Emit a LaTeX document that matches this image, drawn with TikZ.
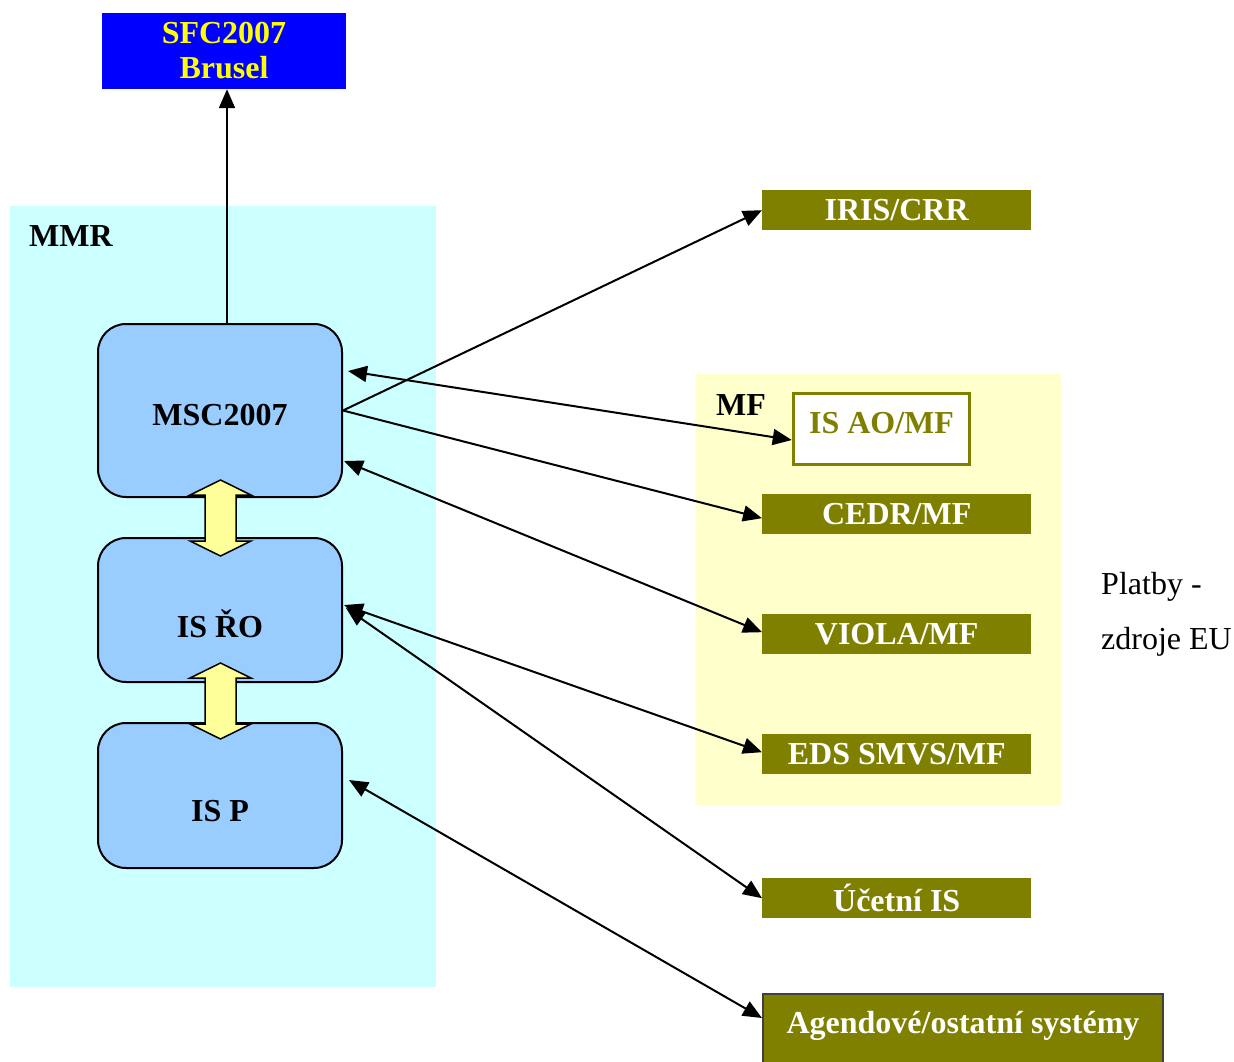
\documentclass[tikz,border=0pt]{standalone}
\usepackage{fontspec}
\setmainfont{Liberation Serif}
\usetikzlibrary{arrows.meta}
\definecolor{olivebox}{RGB}{128,128,0}
\definecolor{mmrbg}{RGB}{204,255,255}
\definecolor{mfbg}{RGB}{255,255,204}
\definecolor{boxblue}{RGB}{153,204,255}
\definecolor{yarrow}{RGB}{255,255,153}
\definecolor{sfcblue}{RGB}{0,0,255}
\definecolor{sfcyellow}{RGB}{255,255,0}
\begin{document}
\begin{tikzpicture}[x=1pt,y=-1pt,
  bigfont/.style={font=\fontsize{32}{36}\selectfont\bfseries},
  plainfont/.style={font=\fontsize{32}{36}\selectfont},
  rbox/.style={draw=black, line width=2pt, fill=boxblue, rounded corners=28pt,
    minimum width=244pt, minimum height=#1, inner sep=0pt},
  olv/.style={fill=olivebox, text=white, bigfont, minimum width=269pt,
    minimum height=40pt, inner sep=0pt, anchor=north west},
  dblarr/.style={draw=black, line width=1.5pt, fill=yarrow, line join=miter},
  tip/.tip={Triangle[length=19pt,width=16pt]},
  arr/.style={draw=black, line width=2pt, -tip},
  arrb/.style={draw=black, line width=2pt, tip-tip},
]
\useasboundingbox (0,0) rectangle (1234,1062);
\clip (0,0) rectangle (1234,1062);

% backgrounds
\fill[mmrbg] (10,206) rectangle (436,987);
\fill[mfbg] (696,374) rectangle (1061,805);
\node[bigfont, anchor=west, inner sep=0pt] (mmrlbl) at (29,236) {MMR};
\node[bigfont, anchor=west, inner sep=0pt] (mflbl) at (716,405) {MF};

% SFC box
\node[fill=sfcblue, text=sfcyellow, bigfont, minimum width=244pt, minimum height=76pt,
  inner sep=0pt, align=center] (sfc) at (224,51) {SFC2007\\[-1pt]Brusel};

% blue rounded boxes
\node[rbox=173pt, label={[bigfont, yshift=-5pt]center:MSC2007}] (msc) at (220,410.5) {};
\node[rbox=144pt, label={[bigfont, yshift=-14pt]center:IS ŘO}] (isro) at (220,610) {};
\node[rbox=145pt, label={[bigfont, yshift=-16pt]center:IS P}] (isp) at (220,795.5) {};

% yellow double arrows
\draw[dblarr] (220.5,480) -- (251,495) -- (236,495) -- (236,541) -- (251,541) -- (220.5,556)
  -- (190,541) -- (205,541) -- (205,495) -- (190,495) -- cycle;
\draw[dblarr] (220.5,663) -- (251,678) -- (236,678) -- (236,724) -- (251,724) -- (220.5,739)
  -- (190,724) -- (205,724) -- (205,678) -- (190,678) -- cycle;

% MF: IS AO/MF
\node[draw=olivebox, line width=3.5pt, fill=white, minimum width=176pt, minimum height=71pt,
  inner sep=0pt, label={[bigfont, text=olivebox, yshift=6pt]center:IS AO/MF}] (isao) at (881.5,429) {};

% olive boxes
\node[olv] (iris) at (762,190) {IRIS/CRR};
\node[olv] (cedr) at (762,494) {CEDR/MF};
\node[olv] (viola) at (762,614) {VIOLA/MF};
\node[olv] (eds) at (762,734) {EDS SMVS/MF};
\node[olv] (ucet) at (762,878) {Účetní IS};
\node[fill=olivebox, draw=black!75, line width=2pt, minimum width=400pt, minimum height=82pt,
  inner sep=0pt, anchor=north west,
  label={[bigfont, text=white, yshift=9pt]center:Agendové/ostatní systémy}] (agenda) at (762,993) {};

% side text
\node[plainfont, anchor=west, inner sep=0pt] (platby) at (1101,587) {Platby -};
\node[plainfont, anchor=west, inner sep=0pt] (zdroje) at (1101,642) {zdroje EU};

% connectors
\draw[arr] ([xshift=7pt]msc.north) -- ([xshift=7pt]msc.north |- sfc.south);
\draw[arr] (msc.east) -- (iris.west);
\draw[arrb] ([xshift=5pt,yshift=39.5pt]msc.east) -- ([yshift=-11pt]isao.west);
\draw[arr] (msc.east) -- ([yshift=-4pt]cedr.west);
\draw[arrb] ([xshift=1pt,yshift=-50.5pt]msc.east) -- ([yshift=2pt]viola.west);
\draw[arrb] ([xshift=1pt,yshift=5pt]isro.east) -- ([yshift=2pt]eds.west);
\draw[arrb] ([xshift=3pt,yshift=2pt]isro.east) -- (ucet.west);
\draw[arrb] ([xshift=6pt,yshift=15.5pt]isp.east) -- ([yshift=-25pt]agenda.north west);
\end{tikzpicture}
\end{document}
